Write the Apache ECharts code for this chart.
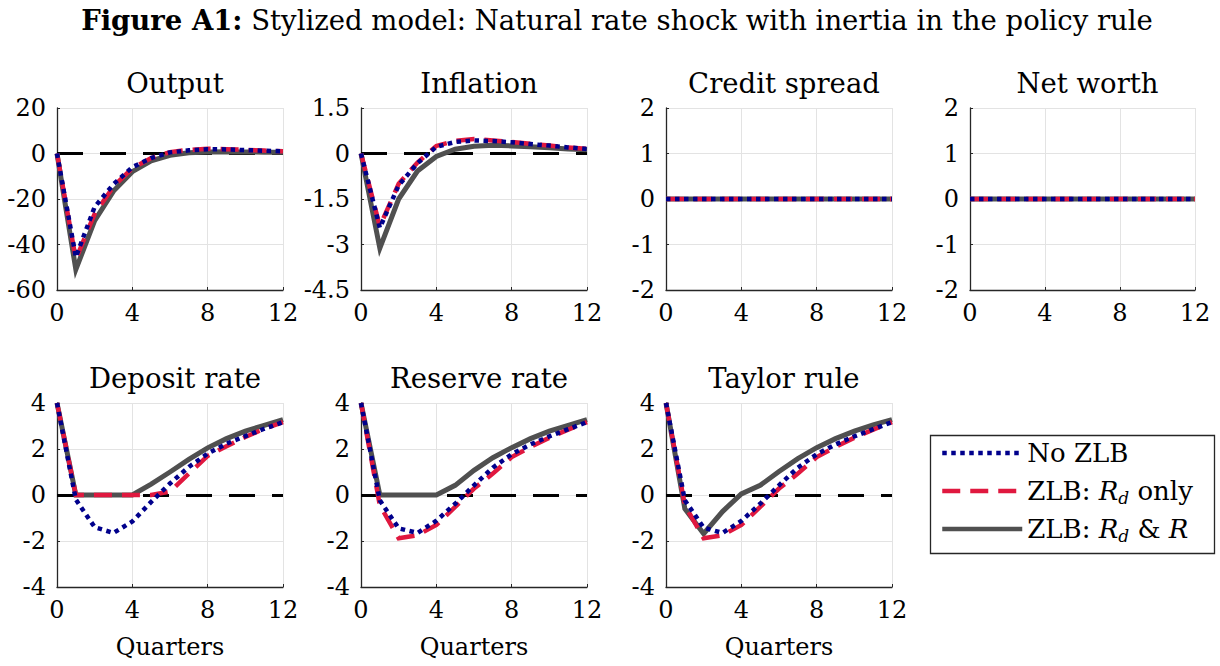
<!DOCTYPE html>
<html><head><meta charset="utf-8">
<script src="https://cdn.jsdelivr.net/npm/echarts@6/dist/echarts.min.js"></script>
<style>html,body{margin:0;padding:0;background:#fff}#c{width:1220px;height:666px}</style>
</head><body><div id="c"></div>
<script>
// ---------------- data ----------------
const quarters = [0,1,2,3,4,5,6,7,8,9,10,11,12];
const xTicks = [0,4,8,12];
const seriesNames = ['No ZLB','ZLB: Rd only','ZLB: Rd & R'];
const panelTitles = ['Output','Inflation','Credit spread','Net worth','Deposit rate','Reserve rate','Taylor rule'];
const xAxisLabel = 'Quarters';
const figureTitleBold = 'Figure A1:';
const figureTitleRest = 'Stylized model: Natural rate shock with inertia in the policy rule';

const outputNoZLB = [0,-45.5,-23.5,-13.5,-6,-2,0.5,1.4,1.9,1.8,1.5,1.2,1.0];
const outputRdOnly = [0,-46.5,-26.5,-14.5,-6.5,-2,0.6,1.6,2.1,1.9,1.6,1.3,1.0];
const outputBoth = [0,-51,-29.5,-16.5,-8,-3.2,-0.8,0.3,0.7,0.8,0.7,0.6,0.5];

const inflationNoZLB = [0,-2.45,-1.05,-0.32,0.22,0.38,0.43,0.41,0.37,0.31,0.26,0.2,0.15];
const inflationRdOnly = [0,-2.4,-1.0,-0.3,0.25,0.42,0.48,0.43,0.38,0.32,0.26,0.2,0.15];
const inflationBoth = [0,-3.12,-1.5,-0.58,-0.1,0.14,0.24,0.27,0.25,0.22,0.19,0.15,0.12];

const spreadNoZLB = [0,0,0,0,0,0,0,0,0,0,0,0,0];
const spreadRdOnly = [0,0,0,0,0,0,0,0,0,0,0,0,0];
const spreadBoth = [0,0,0,0,0,0,0,0,0,0,0,0,0];

const netWorthNoZLB = [0,0,0,0,0,0,0,0,0,0,0,0,0];
const netWorthRdOnly = [0,0,0,0,0,0,0,0,0,0,0,0,0];
const netWorthBoth = [0,0,0,0,0,0,0,0,0,0,0,0,0];

const depositNoZLB = [4,-0.2,-1.4,-1.65,-1.15,-0.3,0.5,1.22,1.8,2.23,2.56,2.88,3.17];
const depositRdOnly = [4,0,0,0,0,0,0.15,0.93,1.7,2.12,2.52,2.88,3.17];
const depositBoth = [4,0,0,0,0,0.47,1.0,1.55,2.05,2.45,2.78,3.03,3.28];

const reserveNoZLB = [4,-0.23,-1.45,-1.65,-1.12,-0.38,0.42,1.19,1.77,2.2,2.55,2.86,3.17];
const reserveRdOnly = [4,-0.45,-1.88,-1.75,-1.3,-0.52,0.28,0.93,1.65,2.09,2.49,2.84,3.17];
const reserveBoth = [4,0,0,0,0,0.42,1.07,1.62,2.06,2.45,2.78,3.03,3.28];

const taylorNoZLB = [4,-0.23,-1.42,-1.65,-1.13,-0.38,0.42,1.19,1.77,2.2,2.55,2.86,3.17];
const taylorRdOnly = [4,-0.45,-1.88,-1.75,-1.3,-0.52,0.28,0.93,1.65,2.09,2.49,2.84,3.17];
const taylorBoth = [4,-0.6,-1.68,-0.72,0.05,0.42,1.02,1.58,2.06,2.45,2.78,3.05,3.28];

const outputTicks = [-60,-40,-20,0,20];
const inflationTicks = [-4.5,-3,-1.5,0,1.5];
const spreadTicks = [-2,-1,0,1,2];
const rateTicks = [-4,-2,0,2,4];

// ---------------- layout / style ----------------
const FONT = "'DejaVu Serif', serif";
const panels = [
  {ticks: outputTicks, data: [outputNoZLB, outputRdOnly, outputBoth]},
  {ticks: inflationTicks, data: [inflationNoZLB, inflationRdOnly, inflationBoth]},
  {ticks: spreadTicks, data: [spreadNoZLB, spreadRdOnly, spreadBoth]},
  {ticks: spreadTicks, data: [netWorthNoZLB, netWorthRdOnly, netWorthBoth]},
  {ticks: rateTicks, data: [depositNoZLB, depositRdOnly, depositBoth]},
  {ticks: rateTicks, data: [reserveNoZLB, reserveRdOnly, reserveBoth]},
  {ticks: rateTicks, data: [taylorNoZLB, taylorRdOnly, taylorBoth]}
];
const boxes = [
  [57,108,226,182],[361,108,226,182],[666,108,226,182],[970,108,225,182],
  [57,403,226,184],[361,403,226,184],[666,403,226,184]
];
const lineStyles = [
  {color:'#00008c', width:4.5, type:[4.5,4.5], cap:'butt'},
  {color:'#e0183f', width:4.5, type:[18,10], cap:'butt'},
  {color:'#505050', width:5, type:'solid', cap:'butt'}
];
const AXIS = '#262626', GRIDC = '#e3e3e3';

const grids = [], xAxes = [], yAxes = [], series = [], titles = [];
titles.push({
  text: '{b|' + figureTitleBold + '} ' + figureTitleRest,
  left: 612, top: 1, textAlign: 'center',
  textStyle: {fontFamily: FONT, fontSize: 27.5, fontWeight: 'normal', color: '#000',
    rich: {b: {fontFamily: FONT, fontSize: 27.5, fontWeight: 'bold', color: '#000'}}}
});
panels.forEach((p, i) => {
  const [l, t, w, h] = boxes[i];
  grids.push({left: l, top: t, width: w, height: h, containLabel: false});
  titles.push({text: panelTitles[i], left: l + w / 2, top: t - 44, textAlign: 'center',
    textStyle: {fontFamily: FONT, fontSize: 27.5, fontWeight: 'normal', color: '#000'}});
  const bottomRow = i >= 4;
  xAxes.push({
    gridIndex: i, type: 'value', min: xTicks[0], max: xTicks[xTicks.length - 1],
    interval: xTicks[1] - xTicks[0],
    name: bottomRow ? xAxisLabel : '', nameLocation: 'middle', nameGap: 48,
    nameTextStyle: {fontFamily: FONT, fontSize: 24, color: '#000'},
    axisLine: {show: true, onZero: false, lineStyle: {color: AXIS, width: 1.3}},
    axisTick: {show: true, inside: true, length: 3, lineStyle: {color: AXIS}},
    axisLabel: {fontFamily: FONT, fontSize: 24, color: '#000', margin: 11},
    splitLine: {show: true, lineStyle: {color: GRIDC, width: 1}}
  });
  yAxes.push({
    gridIndex: i, type: 'value', min: p.ticks[0], max: p.ticks[p.ticks.length - 1],
    interval: p.ticks[1] - p.ticks[0],
    axisLine: {show: true, onZero: false, lineStyle: {color: AXIS, width: 1.3}},
    axisTick: {show: true, inside: true, length: 3, lineStyle: {color: AXIS}},
    axisLabel: {fontFamily: FONT, fontSize: 24, color: '#000', margin: 11},
    splitLine: {show: true, lineStyle: {color: GRIDC, width: 1}}
  });
  [2, 1, 0].forEach(k => {
    const ls = lineStyles[k];
    const s = {
      name: seriesNames[k], type: 'line', xAxisIndex: i, yAxisIndex: i,
      data: quarters.map((q, j) => [q, p.data[k][j]]),
      symbol: 'none', showSymbol: false, animation: false, silent: true,
      lineStyle: {color: ls.color, width: ls.width, type: ls.type, cap: ls.cap, join: 'miter'},
      itemStyle: {color: ls.color}, z: 3 + (2 - k)
    };
    if (k === 2) {
      s.markLine = {silent: true, symbol: 'none', z: 1, animation: false,
        label: {show: false},
        lineStyle: {color: '#000', width: 3, type: [26, 17], cap: 'butt'},
        data: [{yAxis: 0}]};
    }
    series.push(s);
  });
});

const chart = echarts.init(document.getElementById('c'), null, {renderer: 'svg'});
chart.setOption({
  backgroundColor: '#fff',
  animation: false,
  title: titles,
  grid: grids, xAxis: xAxes, yAxis: yAxes, series: series,
  legend: {
    data: seriesNames.slice(), orient: 'vertical', left: 928, top: 433,
    padding: [5, 10, 5, 12], itemWidth: 80, itemHeight: 14, itemGap: 8,
    selectedMode: false,
    lineStyle: {width: 4.5},
    itemStyle: {opacity: 0, borderWidth: 0},
    formatter: function (name) {
      if (name === seriesNames[1]) return 'ZLB: {i|R}{s|d} only';
      if (name === seriesNames[2]) return 'ZLB: {i|R}{s|d} & {i|R}';
      return name;
    },
    textStyle: {fontFamily: FONT, fontSize: 26, color: '#000', lineHeight: 30,
      rich: {
        i: {fontFamily: FONT, fontSize: 26, fontStyle: 'italic', color: '#000', lineHeight: 30},
        s: {fontFamily: FONT, fontSize: 17, fontStyle: 'italic', color: '#000', lineHeight: 12, verticalAlign: 'bottom'}
      }}
  },
  graphic: [{type: 'rect', left: 928, top: 433, silent: true,
    shape: {width: 284, height: 118}, style: {fill: 'none', stroke: '#262626', lineWidth: 1.3}}]
});
</script></body></html>
